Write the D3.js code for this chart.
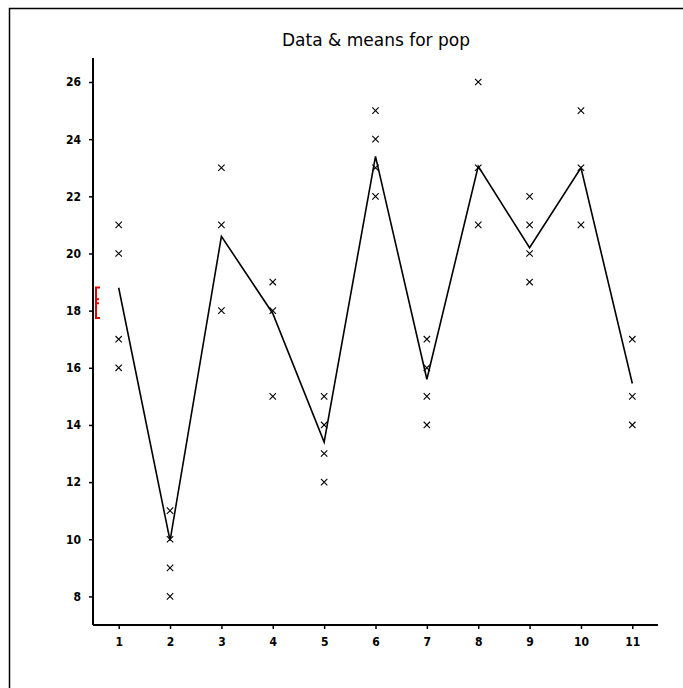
<!DOCTYPE html>
<html><head><meta charset="utf-8">
<script src="https://cdn.jsdelivr.net/npm/d3@7"></script>
<style>body{margin:0;background:#fff}svg{display:block}</style>
</head><body>
<script>
const title = "Data & means for pop";
const groups = [1,2,3,4,5,6,7,8,9,10,11];
const observations = [
  [21,20,17,16],
  [11,10,9,8],
  [23,21,18],
  [19,18,15],
  [15,14,13,12],
  [25,24,23,22],
  [17,16,15,14],
  [26,23,21],
  [22,21,20,19],
  [25,23,21],
  [17,15,14]
];
const means = [18.8,9.95,20.6,17.9,13.4,23.4,15.6,23.05,20.2,23.0,15.45];
const yTicks = [8,10,12,14,16,18,20,22,24,26];
const bracket = {low:17.74, mid:18.33, high:18.81};

const W=683,H=688;
const svg=d3.select("body").append("svg").attr("width",W).attr("height",H);
// frame
svg.append("path").attr("d","M9.5,688V8.5H683").attr("fill","none").attr("stroke","#000").attr("stroke-width",1.5);

const x=d3.scaleLinear().domain([0.5,11.5]).range([93,658]);
const y=d3.scaleLinear().domain([7,26]).range([625,82]);
const font="'DejaVu Sans Condensed','DejaVu Sans',sans-serif";

svg.append("text").attr("x",376).attr("y",46).attr("text-anchor","middle")
  .attr("font-family",font).attr("font-size",18).attr("textLength",188)
  .attr("lengthAdjust","spacingAndGlyphs").text(title);

// axes
const gy=svg.append("g").attr("transform","translate(93,0)")
  .call(d3.axisLeft(y).tickValues(yTicks).tickSize(4).tickSizeOuter(0).tickPadding(8));
gy.select(".domain").attr("d","M0,58V625").attr("stroke-width",2);
const gx=svg.append("g").attr("transform","translate(0,625)")
  .call(d3.axisBottom(x).tickValues(groups).tickSize(4).tickSizeOuter(0).tickPadding(8));
gx.select(".domain").attr("d","M93,0H658").attr("stroke-width",2);
svg.selectAll(".tick line").attr("stroke-width",1.5);
svg.selectAll(".tick text").attr("font-family",font).attr("font-size",12).attr("font-weight","bold").attr("fill","#000");

// red bracket
const bx=96;
svg.append("path").attr("fill","none").attr("stroke","#e00000").attr("stroke-width",2)
  .attr("d",`M${bx+4},${y(bracket.high)}H${bx}V${y(bracket.low)}H${bx+4}M${bx},${y(bracket.mid)-2}h3M${bx},${y(bracket.mid)+2}h3`);

// means line
svg.append("path").datum(means.map((m,i)=>[groups[i],m]))
  .attr("fill","none").attr("stroke","#000").attr("stroke-width",1.6)
  .attr("d",d3.line().x(d=>x(d[0])).y(d=>y(d[1])));

// crosses
const pts=[];
observations.forEach((arr,i)=>arr.forEach(v=>pts.push([groups[i],v])));
const s=3.2;
svg.append("g").selectAll("path").data(pts).join("path")
  .attr("fill","none").attr("stroke","#000").attr("stroke-width",1.1)
  .attr("d",d=>{const cx=x(d[0]),cy=y(d[1]);return `M${cx-s},${cy-s}L${cx+s},${cy+s}M${cx-s},${cy+s}L${cx+s},${cy-s}`;});
</script>
</body></html>
